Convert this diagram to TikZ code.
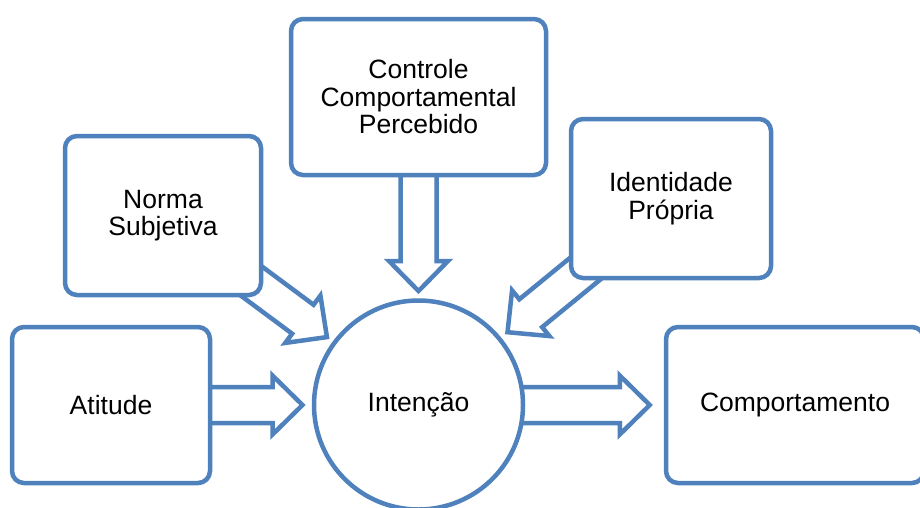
\documentclass[tikz,border=0pt]{standalone}
\usepackage{fontspec}
\setmainfont{Liberation Sans}
\usetikzlibrary{calc,backgrounds}
\definecolor{boxblue}{HTML}{4F81BD}
\tikzset{
  mybox/.style={draw=boxblue, line width=4.5pt, fill=white, rounded corners=12pt,
    inner sep=0pt, align=center, font=\fontsize{26.5}{27.5}\selectfont},
  mycircle/.style={draw=boxblue, line width=4.5pt, fill=white, circle,
    inner sep=0pt, minimum size=209pt, font=\fontsize{26.5}{27.5}\selectfont},
  barrowstyle/.style={draw=boxblue, line width=4.5pt, fill=white, line join=miter, miter limit=10}
}
\newcommand\blockarrow[2]{%
  \coordinate (bP) at ($(#2)!30pt!(#1)$);
  \draw[barrowstyle] ($(#1)!18pt!90:(#2)$) -- ($(bP)!18pt!-90:(#1)$)
    -- ($(bP)!29.5pt!-90:(#1)$) -- (#2) -- ($(bP)!29.5pt!90:(#1)$)
    -- ($(bP)!18pt!90:(#1)$) -- ($(#1)!18pt!-90:(#2)$) -- cycle;}
\begin{document}
\begin{tikzpicture}[x=1pt,y=-1pt]
\useasboundingbox (0,0) rectangle (920,507);
\node[mybox, minimum width=198pt, minimum height=156pt] (att) at (111,405) {Atitude};
\node[mybox, minimum width=258pt, minimum height=156pt] (comp) at (795,405) {Comportamento};
\node[mybox, minimum width=196pt, minimum height=159pt] (norma) at (163,215.5) {Norma\\Subjetiva};
\node[mybox, minimum width=255pt, minimum height=156pt] (ctrl) at (418.5,97) {Controle\\Comportamental\\Percebido};
\node[mybox, minimum width=200pt, minimum height=159pt] (ident) at (671,198.5) {Identidade\\Própria};
\node[mycircle] (int) at (418.5,405) {Intenção};
\coordinate (tAtt) at ($(int.center)!116pt!(att.center)$);
\coordinate (tNorma) at ($(int.center)!114pt!(norma.center)$);
\coordinate (tCtrl) at ($(int.center)!114pt!(ctrl.center)$);
\coordinate (tIdent) at ($(int.center)!115pt!(ident.center)$);
\coordinate (tComp) at ($(comp.west)!14pt!(int.center)$);
\begin{scope}[on background layer]
\blockarrow{att.center}{tAtt}
\blockarrow{norma.center}{tNorma}
\blockarrow{ctrl.center}{tCtrl}
\blockarrow{ident.center}{tIdent}
\blockarrow{int.center}{tComp}
\end{scope}
\end{tikzpicture}
\end{document}
